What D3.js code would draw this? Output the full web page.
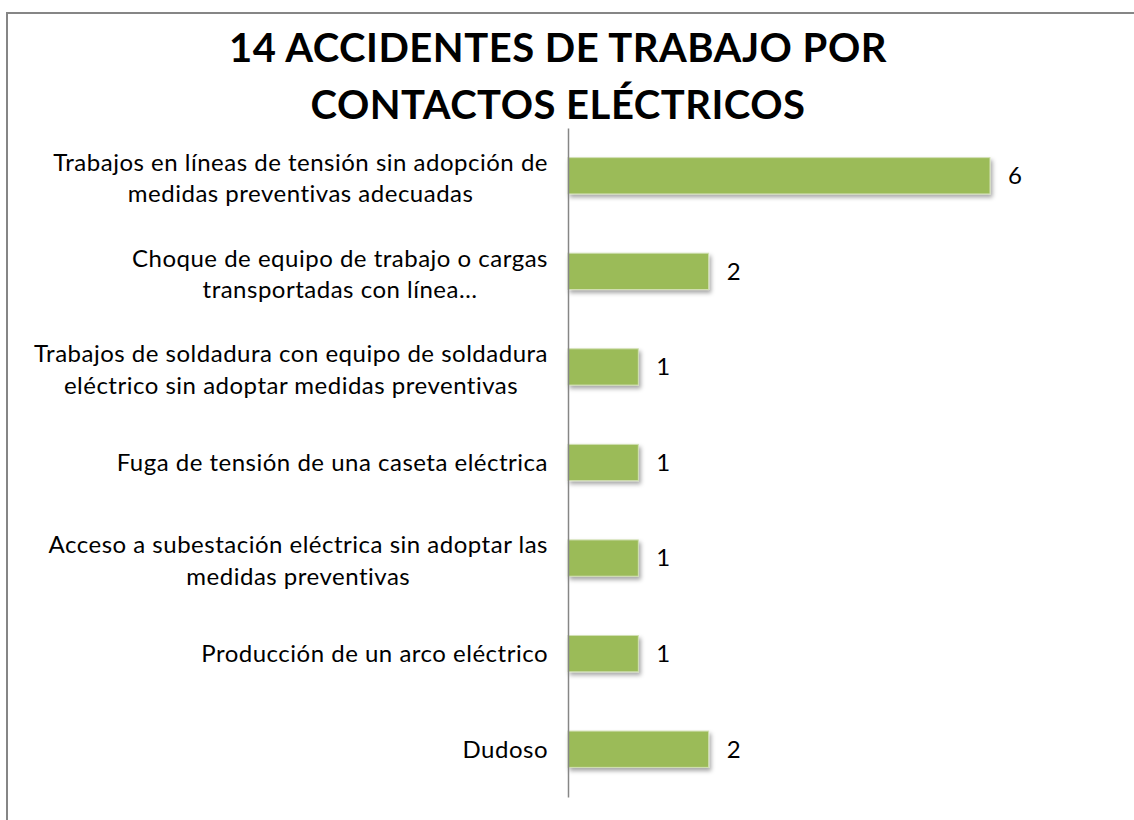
<!DOCTYPE html>
<html>
<head>
<meta charset="utf-8">
<script src="https://cdn.jsdelivr.net/npm/d3@7"></script>
<style>
  html, body { margin: 0; padding: 0; background: #fff; }
  svg { display: block; }
  text { font-family: Lato, "Open Sans", sans-serif; fill: #000; }
</style>
</head>
<body>
<svg id="chart" width="1134" height="820"></svg>
<script>
const titleLines = ["14 ACCIDENTES DE TRABAJO POR", "CONTACTOS ELÉCTRICOS"];
const categories = [
  ["Trabajos en líneas de tensión sin adopción de", "medidas preventivas adecuadas"],
  ["Choque de equipo de trabajo o cargas", "transportadas con línea…"],
  ["Trabajos de soldadura con equipo de soldadura", "eléctrico sin adoptar medidas preventivas"],
  ["Fuga de tensión de una caseta eléctrica"],
  ["Acceso a subestación eléctrica sin adoptar las", "medidas preventivas"],
  ["Producción de un arco eléctrico"],
  ["Dudoso"]
];
const values = [6, 2, 1, 1, 1, 1, 2];
const maxValue = 6;

const svg = d3.select("#chart");
const keys = categories.map(c => c.join(" "));

// chart border
svg.append("rect")
  .attr("x", 7).attr("y", 13).attr("width", 1200).attr("height", 900)
  .attr("fill", "#fff").attr("stroke", "#868686").attr("stroke-width", 2);

// shadow filter
const defs = svg.append("defs");
const f = defs.append("filter").attr("id", "shadow")
  .attr("x", "-10%").attr("y", "-30%").attr("width", "130%").attr("height", "180%");
f.append("feDropShadow").attr("dx", 2).attr("dy", 3).attr("stdDeviation", 2)
  .attr("flood-color", "#000").attr("flood-opacity", 0.35);

const x = d3.scaleLinear().domain([0, maxValue]).range([568, 990]);
const y = d3.scaleBand().domain(keys).range([128, 797]).paddingInner(0.62).paddingOuter(0.31);

// title
svg.append("g").selectAll("text").data(titleLines).join("text")
  .attr("x", 558).attr("y", (d, i) => 62 + i * 57)
  .attr("text-anchor", "middle")
  .style("font-size", "40px").style("font-weight", "bold")
  .style("letter-spacing", "0.5px")
  .text(d => d);

// bars
svg.append("g").selectAll("rect").data(values).join("rect")
  .attr("x", x(0))
  .attr("y", (d, i) => y(keys[i]))
  .attr("width", d => x(d) - x(0))
  .attr("height", y.bandwidth())
  .attr("fill", "#9BBB59")
  .attr("stroke", "#d2e0b4").attr("stroke-width", 1)
  .attr("filter", "url(#shadow)");

// axis line
const yAxis = d3.axisLeft(y).tickSize(0).tickFormat("");
const ag = svg.append("g").attr("transform", `translate(${x(0)},0)`).call(yAxis);
ag.select(".domain").attr("stroke", "#868686").attr("stroke-width", 1.5);

// category labels (block right-aligned, lines centered)
const labelRight = 548;
const lineH = 31.5;
const lg = svg.append("g").style("font-size", "24px").style("letter-spacing", "0.5px");
categories.forEach((lines, i) => {
  const cy = y(keys[i]) + y.bandwidth() / 2 + (lines.length > 1 ? 2.5 : 0);
  const g = lg.append("g");
  const texts = g.selectAll("text").data(lines).join("text")
    .attr("text-anchor", "middle")
    .attr("dy", "0.35em")
    .attr("y", (d, j) => cy + (j - (lines.length - 1) / 2) * lineH)
    .text(d => d);
  let maxW = 0;
  texts.each(function() { maxW = Math.max(maxW, this.getComputedTextLength()); });
  texts.attr("x", labelRight - maxW / 2);
});

// value labels
svg.append("g").selectAll("text").data(values).join("text")
  .attr("x", d => x(d) + 18)
  .attr("y", (d, i) => y(keys[i]) + y.bandwidth() / 2)
  .attr("dy", "0.35em")
  .style("font-size", "24px")
  .text(d => d);
</script>
</body>
</html>
